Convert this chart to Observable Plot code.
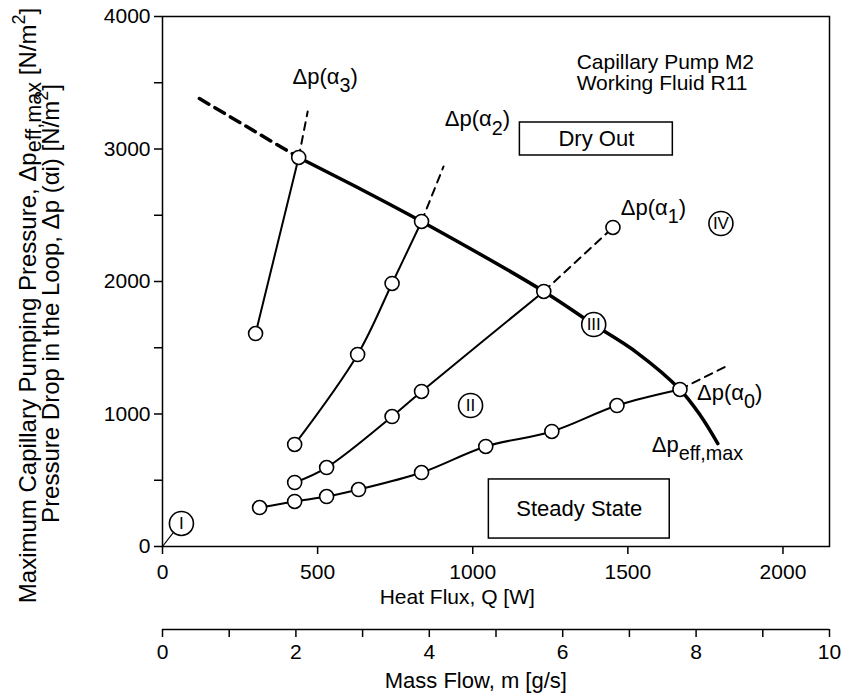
<!DOCTYPE html>
<html>
<head>
<meta charset="utf-8">
<script src="https://cdn.jsdelivr.net/npm/d3@7"></script>
<script src="https://cdn.jsdelivr.net/npm/@observablehq/plot@0.6"></script>
<style>
  html, body { margin: 0; padding: 0; background: white; }
  #chart svg { display: block; }
</style>
</head>
<body>
<div id="chart"></div>
<script>
// ---- data (heat flux Q [W], pressure [N/m²]) ----
const alpha0Q = [313, 426, 529, 632, 835, 1042, 1255, 1465, 1668];
const alpha0P = [294, 340, 377, 430, 558, 755, 868, 1064, 1185];
const alpha0DashQ = [1668, 1829];
const alpha0DashP = [1185, 1374];

const alpha1Q = [426, 529, 740, 835, 1229];
const alpha1P = [483, 596, 981, 1170, 1925];
const alpha1DashQ = [1229, 1452];
const alpha1DashP = [1925, 2408];

const alpha2Q = [426, 629, 740, 835];
const alpha2P = [770, 1449, 1985, 2453];
const alpha2DashQ = [835, 906];
const alpha2DashP = [2453, 2868];

const alpha3Q = [300, 439];
const alpha3P = [1607, 2936];
const alpha3DashQ = [439, 468];
const alpha3DashP = [2936, 3283];

const maxPumpQ = [439, 629, 835, 1229, 1390, 1530, 1668, 1735, 1790];
const maxPumpP = [2936, 2709, 2453, 1925, 1675, 1462, 1185, 985, 777];
const maxPumpDashQ = [119, 439];
const maxPumpDashP = [3381, 2936];

// open circles (measured points)
const markerQ = [313, 426, 529, 632, 835, 1042, 1255, 1465, 1668,
                 426, 529, 740, 835, 1229, 1452,
                 426, 629, 740, 835,
                 300, 439];
const markerP = [294, 340, 377, 430, 558, 755, 868, 1064, 1185,
                 483, 596, 981, 1170, 1925, 2408,
                 770, 1449, 1985, 2453,
                 1607, 2936];

// regions I-IV
const regionNames = ["I", "II", "III", "IV"];
const regionQ = [61, 993, 1390, 1800];
const regionP = [174, 1064, 1675, 2438];

// curve labels
const curveLabelTexts = ["Δp(α_{3})", "Δp(α_{2})", "Δp(α_{1})", "Δp(α_{0})", "Δp_{eff,max}"];
const curveLabelQ = [419, 910, 1477, 1723, 1577];
const curveLabelP = [3547, 3223, 2558, 1162, 770];

// boxes
const boxTexts = ["Dry Out", "Steady State"];
const boxQ1 = [1152, 1052];
const boxQ2 = [1645, 1635];
const boxP1 = [2951, 60];
const boxP2 = [3200, 506];

const infoText = "Capillary Pump M2\nWorking Fluid R11";
const infoQ = 1335, infoP = 3572;

// axes
const heatMax = 2150;
const heatTicks = [0, 500, 1000, 1500, 2000];
const pressureTicks = [0, 500, 1000, 1500, 2000, 2500, 3000, 3500, 4000];
const massMax = 10;
const massTicks = [0, 1, 2, 3, 4, 5, 6, 7, 8, 9, 10];
const massLabels = ["0", "", "2", "", "4", "", "6", "", "8", "", "10"];
const heatTitle = "Heat Flux, Q [W]";
const massTitle = "Mass Flow, m [g/s]";
const yTitle1 = "Maximum Capillary Pumping Pressure, Δp_{eff,max} [N/m^{2}]";
const yTitle2 = "Pressure Drop in the Loop, Δp (αi) [N/m^{2}]";

// ---- build tables ----
const zip = (Q, P) => Q.map((q, i) => ({q, p: P[i]}));
const solidCurves = [zip(alpha0Q, alpha0P), zip(alpha1Q, alpha1P), zip(alpha2Q, alpha2P), zip(alpha3Q, alpha3P)];
const dashCurves = [zip(alpha0DashQ, alpha0DashP), zip(alpha1DashQ, alpha1DashP), zip(alpha2DashQ, alpha2DashP), zip(alpha3DashQ, alpha3DashP)];
const markers = zip(markerQ, markerP);
const regions = regionNames.map((n, i) => ({n, q: regionQ[i], p: regionP[i]}));
const curveLabels = curveLabelTexts.map((t, i) => ({t, q: curveLabelQ[i], p: curveLabelP[i]}));
const boxes = boxTexts.map((t, i) => ({t, q1: boxQ1[i], q2: boxQ2[i], p1: boxP1[i], p2: boxP2[i]}));
const k = heatMax / massMax;

const font = "'Liberation Sans', Arial, Helvetica, sans-serif";

const chart = Plot.plot({
  width: 848,
  height: 699,
  marginLeft: 162,
  marginRight: 19,
  marginTop: 16,
  marginBottom: 153,
  style: {fontFamily: font, fontSize: "21px", color: "black", background: "white"},
  x: {domain: [0, heatMax]},
  y: {domain: [0, 4000]},
  marks: [
    Plot.frame({stroke: "black", strokeWidth: 1.5}),
    Plot.axisY({ticks: pressureTicks, tickSize: 8, tickPadding: 4, strokeWidth: 1.5,
      tickFormat: d => d % 1000 === 0 ? String(d) : "", label: null, fontSize: 21}),
    Plot.axisX({ticks: heatTicks, tickSize: 8, tickPadding: 10, strokeWidth: 1.5,
      tickFormat: d => String(d), label: null, fontSize: 21}),
    Plot.ruleY([0], {dy: 83, stroke: "black", strokeWidth: 1.5}),
    Plot.axisX({ticks: massTicks.map(m => m * k), dy: 83, tickSize: 8, tickPadding: 7, strokeWidth: 1.5,
      tickFormat: d => massLabels[Math.round(d / k)], label: null, fontSize: 21}),
    Plot.text([heatTitle], {text: d => d, x: 950, frameAnchor: "bottom", dy: 57, fontSize: 21}),
    Plot.text([massTitle], {text: d => d, x: 1010, frameAnchor: "bottom", dy: 141, fontSize: 22}),
    Plot.text([yTitle1], {text: d => d, frameAnchor: "left", textAnchor: "middle", dx: -134, dy: 24, rotate: -90, fontSize: 24}),
    Plot.text([yTitle2], {text: d => d, frameAnchor: "left", textAnchor: "middle", dx: -111, dy: 22, rotate: -90, fontSize: 24}),
    // boxes
    Plot.rect(boxes, {x1: "q1", x2: "q2", y1: "p1", y2: "p2", fill: "white", stroke: "black", strokeWidth: 1.5}),
    Plot.text(boxes, {x: d => (d.q1 + d.q2) / 2, y: d => (d.p1 + d.p2) / 2, text: "t", fontSize: 22}),
    // origin link to region I
    Plot.link([{q1: 0, p1: 0, q2: 34, p2: 102}], {x1: "q1", y1: "p1", x2: "q2", y2: "p2", stroke: "black", strokeWidth: 1.2}),
    // curves
    ...solidCurves.map(c => Plot.line(c, {x: "q", y: "p", curve: "catmull-rom", stroke: "black", strokeWidth: 2})),
    ...dashCurves.map(c => Plot.line(c, {x: "q", y: "p", stroke: "black", strokeWidth: 2, strokeDasharray: "8,6"})),
    Plot.line(zip(maxPumpQ, maxPumpP), {x: "q", y: "p", curve: "catmull-rom", stroke: "black", strokeWidth: 3.5}),
    Plot.line(zip(maxPumpDashQ, maxPumpDashP), {x: "q", y: "p", stroke: "black", strokeWidth: 3.5, strokeDasharray: "11,7"}),
    Plot.dot(markers, {x: "q", y: "p", r: 7, fill: "white", stroke: "black", strokeWidth: 1.6}),
    Plot.dot(regions, {x: "q", y: "p", r: 12, fill: "white", stroke: "black", strokeWidth: 1.6}),
    Plot.text(regions, {x: "q", y: "p", text: "n", fontSize: 17, fontFamily: "'Liberation Sans Narrow', " + font}),
    Plot.text(curveLabels, {x: "q", y: "p", text: "t", textAnchor: "start", fontSize: 22}),
    Plot.text([infoText], {text: d => d, x: infoQ, y: infoP, textAnchor: "start", fontSize: 21, lineHeight: 1.0})
  ]
});

// turn _{...} and ^{...} into real subscript / superscript tspans
function richify(svg) {
  d3.select(svg).selectAll("text").each(function() {
    const node = this;
    const raw = node.textContent;
    if (!/[_^]\{/.test(raw)) return;
    const fsHolder = node.closest("[font-size]");
    const fs = fsHolder ? parseFloat(fsHolder.getAttribute("font-size")) : 21;
    const subShift = fs >= 24 ? 0.2 : 0.38;
    node.textContent = "";
    const re = /([_^])\{([^}]*)\}/g;
    let last = 0, m;
    const parts = [];
    while ((m = re.exec(raw)) !== null) {
      if (m.index > last) parts.push({type: "n", s: raw.slice(last, m.index)});
      parts.push({type: m[1] === "_" ? "sub" : "sup", s: m[2]});
      last = re.lastIndex;
    }
    if (last < raw.length) parts.push({type: "n", s: raw.slice(last)});
    let shift = 0; // in em of normal size
    for (const p of parts) {
      const ts = d3.select(node).append("tspan").text(p.s);
      if (p.type === "n") {
        if (shift !== 0) ts.attr("dy", (-shift) + "em");
        shift = 0;
      } else if (p.type === "sub") {
        const size = 0.9, sh = subShift;
        ts.attr("font-size", (size * 100) + "%").attr("dy", (sh / size) + "em");
        shift = sh;
      } else {
        const size = 0.75, sh = -0.45;
        ts.attr("font-size", (size * 100) + "%").attr("dy", (sh / size) + "em");
        shift = sh;
      }
    }
  });
}
richify(chart);
document.getElementById("chart").appendChild(chart);
</script>
</body>
</html>
